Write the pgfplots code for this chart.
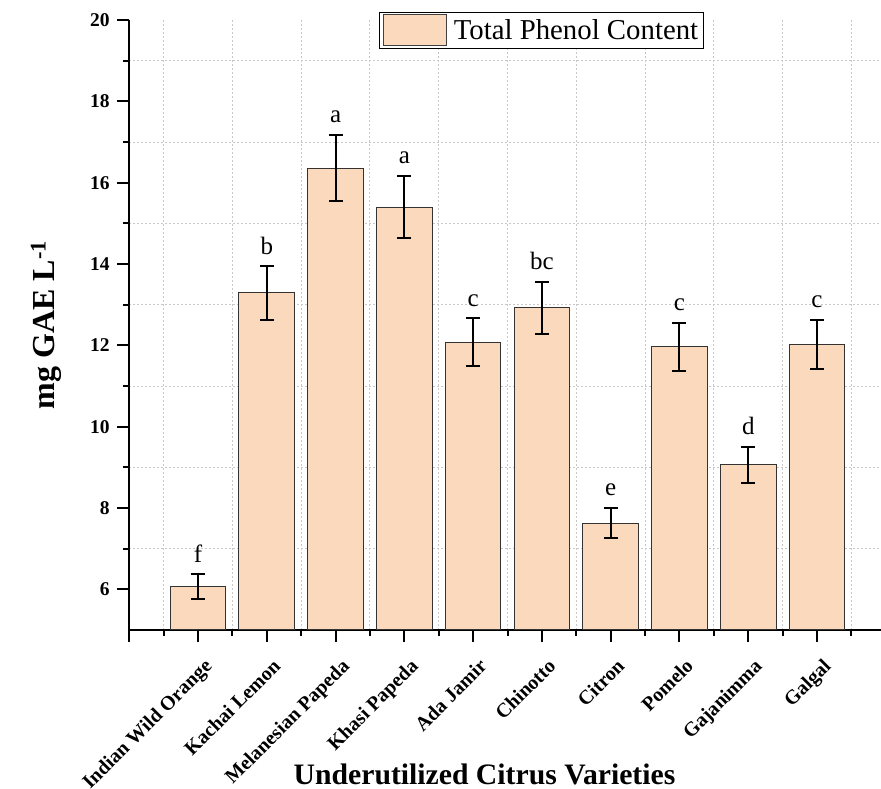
\documentclass[border=0pt]{standalone}
\usepackage{pgfplots}
\pgfplotsset{compat=1.18}
\usepackage{pgfplotstable}
\usepackage{fontspec}
\setmainfont{Liberation Serif}
\definecolor{barcol}{RGB}{250,217,189}
\definecolor{gridcol}{RGB}{200,200,200}
\pgfplotstableread{
x y e top l
1 6.06 0.31 6.37 f
2 13.29 0.66 13.95 b
3 16.36 0.82 17.18 a
4 15.40 0.77 16.17 a
5 12.08 0.59 12.67 c
6 12.92 0.64 13.56 bc
7 7.63 0.37 8.00 e
8 11.96 0.60 12.56 c
9 9.06 0.44 9.50 d
10 12.03 0.60 12.63 c
}\datatable
\begin{document}
\begin{tikzpicture}
\begin{axis}[
  at={(0,0)}, anchor=south west,
  scale only axis,
  width=751.8pt, height=610pt,
  xmin=0, xmax=10.93,
  ymin=5, ymax=20,
  axis x line*=bottom, axis y line*=left,
  axis line style={line width=2pt},
  xtick={0,...,10},
  xticklabels={,Indian Wild Orange,Kachai Lemon,Melanesian Papeda,Khasi Papeda,Ada Jamir,Chinotto,Citron,Pomelo,Gajanimma,Galgal},
  minor xtick={0.5,1.5,...,10.5},
  ytick={6,8,...,20},
  minor ytick={7,9,...,19},
  tick align=outside,
  major tick length=12pt, minor tick length=6pt,
  every tick/.style={black, line width=2pt},
  minor grid style={gridcol, line width=0.9pt, dash pattern=on 2pt off 2pt},
  xminorgrids=true, yminorgrids=true,
  /pgf/number format/assume math mode=true,
  y tick label style={font=\bfseries\fontsize{19.5}{20}\selectfont, xshift=-4pt},
  x tick label style={font=\bfseries\fontsize{20}{20}\selectfont, xshift=5pt, yshift=-14pt, rotate=45, anchor=north east, inner sep=1pt},
  xlabel={\raisebox{0pt}[\height][0pt]{Underutilized Citrus Varieties}},
  ylabel={mg GAE L\textsuperscript{-1}},
  xlabel style={at={(axis description cs:0.4726,0)}, anchor=base, yshift=-154pt, inner sep=0pt, font=\bfseries\fontsize{29.7}{30}\selectfont},
  ylabel style={at={(axis description cs:-0.0992,0.5)}, anchor=base, rotate=0, font=\bfseries\fontsize{32}{32}\selectfont},
  legend style={at={(axis description cs:0.5484,1.013)}, anchor=north, draw=black, line width=0.8pt, font=\fontsize{28.8}{29}\selectfont, inner xsep=3pt, inner ysep=2pt, nodes={inner sep=2pt}},
  legend cell align=left,
]
\addplot[ybar, bar width=0.81, bar shift=0pt, fill=barcol, draw=black!80, line width=1pt,
  legend image code/.code={\draw[fill=barcol, draw=black!75, line width=1pt] (0pt,-15.5pt) rectangle (63pt,15.5pt);},
  error bars/.cd, y dir=both, y explicit,
  error bar style={black, line width=2pt},
  error mark options={rotate=90, mark size=7pt, line width=2pt, black}]
  table[x=x, y=y, y error=e]{\datatable};
\addlegendentry{\hspace{5pt}Total Phenol Content}
\addplot[only marks, mark=none, forget plot,
  nodes near coords, point meta=explicit symbolic,
  nodes near coords style={anchor=base, yshift=12pt, font=\fontsize{25}{25}\selectfont, black}]
  table[x=x, y=top, meta=l]{\datatable};
\end{axis}
\pgfresetboundingbox
\path (-129.2pt,-159pt) rectangle (751.8pt,630pt);
\end{tikzpicture}
\end{document}
